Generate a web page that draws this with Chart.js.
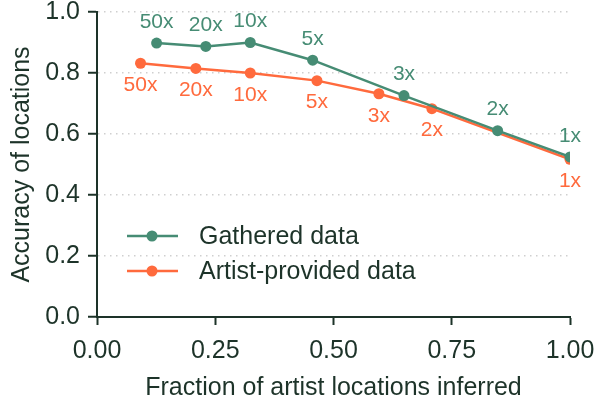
<!DOCTYPE html>
<html>
<head>
<meta charset="utf-8">
<script src="https://cdn.jsdelivr.net/npm/chart.js@4/dist/chart.umd.min.js"></script>
<style>
  html, body { margin: 0; padding: 0; background: #ffffff; }
  #wrap { width: 595px; height: 407px; }
</style>
</head>
<body>
<div id="wrap"><canvas id="c" width="595" height="407"></canvas></div>
<script>
// Upsampling factors shown next to each point
const factorLabels = ['50x', '20x', '10x', '5x', '3x', '2x', '1x'];

// Gathered data: fraction inferred vs. accuracy
const gatheredX = [0.126, 0.230, 0.324, 0.456, 0.649, 0.847, 1.0];
const gatheredY = [0.898, 0.887, 0.900, 0.842, 0.726, 0.611, 0.525];

// Artist-provided data
const artistX = [0.092, 0.209, 0.324, 0.465, 0.596, 0.708, 1.0];
const artistY = [0.832, 0.815, 0.800, 0.775, 0.732, 0.683, 0.517];

// Axis ticks
const xTicks = [0, 0.25, 0.5, 0.75, 1.0];
const yTicks = [0, 0.2, 0.4, 0.6, 0.8, 1.0];

const GREEN = '#468c74';
const ORANGE = '#ff6a3d';
const INK = '#1d3329';
const FONT = "'Liberation Sans', Arial, Helvetica, sans-serif";
const TEXT_SIZE = 25;

const toPoints = (xs, ys) => xs.map((x, i) => ({ x: x, y: ys[i] }));

// Factor labels: above the gathered series, below the artist series
const pointLabels = {
  id: 'pointLabels',
  afterDatasetsDraw(chart) {
    const ctx = chart.ctx;
    ctx.save();
    ctx.font = '21px ' + FONT;
    ctx.textAlign = 'center';
    ctx.textBaseline = 'middle';
    chart.data.datasets.forEach((ds, di) => {
      const meta = chart.getDatasetMeta(di);
      meta.data.forEach((pt, i) => {
        const dy = di === 0 ? -21 : 22;
        ctx.fillStyle = ds.borderColor;
        ctx.fillText(factorLabels[i], pt.x, pt.y + dy);
      });
    });
    ctx.restore();
  }
};

// Legend drawn inside the plot area, lower left
const innerLegend = {
  id: 'innerLegend',
  afterDraw(chart) {
    const ctx = chart.ctx;
    ctx.save();
    ctx.font = TEXT_SIZE + 'px ' + FONT;
    ctx.textBaseline = 'middle';
    ctx.textAlign = 'left';
    const rows = [236, 271];
    chart.data.datasets.forEach((ds, i) => {
      const y = rows[i];
      ctx.strokeStyle = ds.borderColor;
      ctx.lineWidth = 2.5;
      ctx.beginPath();
      ctx.moveTo(127, y);
      ctx.lineTo(178, y);
      ctx.stroke();
      ctx.fillStyle = ds.borderColor;
      ctx.beginPath();
      ctx.arc(152, y, 5.5, 0, Math.PI * 2);
      ctx.fill();
      ctx.fillStyle = INK;
      ctx.fillText(ds.label, 199, y + 1);
    });
    ctx.restore();
  }
};

new Chart(document.getElementById('c'), {
  type: 'line',
  data: {
    datasets: [
      {
        label: 'Gathered data',
        data: toPoints(gatheredX, gatheredY),
        borderColor: GREEN,
        backgroundColor: GREEN,
        borderWidth: 2.5,
        pointRadius: 5.5,
        pointHoverRadius: 5.5,
        pointBorderWidth: 0,
        tension: 0
      },
      {
        label: 'Artist-provided data',
        data: toPoints(artistX, artistY),
        borderColor: ORANGE,
        backgroundColor: ORANGE,
        borderWidth: 2.5,
        pointRadius: 5.5,
        pointHoverRadius: 5.5,
        pointBorderWidth: 0,
        tension: 0
      }
    ]
  },
  options: {
    responsive: false,
    animation: false,
    layout: { padding: { top: 12, right: 25, left: 0, bottom: 0 } },
    plugins: {
      legend: { display: false },
      tooltip: { enabled: false }
    },
    scales: {
      x: {
        type: 'linear',
        min: 0,
        max: 1,
        afterBuildTicks(scale) { scale.ticks = xTicks.map(v => ({ value: v })); },
        afterFit(scale) {
          scale.height = 90;
          scale.paddingLeft = 0;
          scale.paddingRight = 0;
        },
        grid: {
          drawOnChartArea: false,
          drawTicks: true,
          tickLength: 8,
          tickColor: INK,
          tickWidth: 2
        },
        border: { display: true, color: INK, width: 2 },
        ticks: {
          color: INK,
          padding: 11,
          font: { family: FONT, size: TEXT_SIZE },
          callback: v => Number(v).toFixed(2)
        },
        title: {
          display: true,
          text: 'Fraction of artist locations inferred',
          color: INK,
          font: { family: FONT, size: TEXT_SIZE },
          padding: { top: 0, bottom: 4 }
        }
      },
      y: {
        type: 'linear',
        min: 0,
        max: 1,
        afterBuildTicks(scale) { scale.ticks = yTicks.map(v => ({ value: v })); },
        afterFit(scale) {
          scale.width = 97;
          scale.paddingTop = 0;
          scale.paddingBottom = 0;
        },
        grid: {
          drawOnChartArea: true,
          drawTicks: true,
          tickLength: 9,
          color: ctx => (ctx.tick && ctx.tick.value === 0 ? 'rgba(0,0,0,0)' : '#cfcfcf'),
          lineWidth: 1.5,
          tickColor: INK,
          tickWidth: 2,
          tickBorderDash: []
        },
        border: { display: true, color: INK, width: 2, dash: [1.5, 4.5] },
        ticks: {
          color: INK,
          padding: 8,
          font: { family: FONT, size: TEXT_SIZE },
          callback: v => Number(v).toFixed(1)
        },
        title: {
          display: true,
          text: 'Accuracy of locations',
          color: INK,
          font: { family: FONT, size: TEXT_SIZE },
          padding: { top: 7, bottom: 0 }
        }
      }
    }
  },
  plugins: [pointLabels, innerLegend]
});
</script>
</body>
</html>
